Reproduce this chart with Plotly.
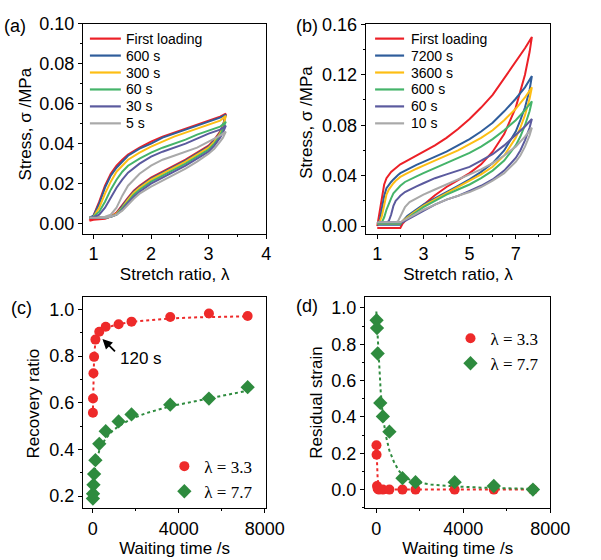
import plotly.graph_objects as go

# ---------------- Panel (a) data: lambda max 3.3 ----------------
lam_a_up = [0.93, 1.0, 1.1, 1.2, 1.3, 1.4, 1.5, 1.6, 1.8, 2.0, 2.2, 2.4, 2.6, 2.8, 3.0, 3.2, 3.3]
lam_a_dn = [3.3, 3.25, 3.2, 3.1, 3.0, 2.8, 2.6, 2.4, 2.2, 2.0, 1.8, 1.7, 1.6, 1.5, 1.4, 1.3, 1.2, 1.0, 0.93]
names_a = ["First loading", "600 s", "300 s", "60 s", "30 s", "5 s"]
a_first_up = [0.0015, 0.004, 0.011, 0.019, 0.025, 0.029, 0.032, 0.0345, 0.038, 0.041, 0.0435, 0.0455, 0.0475, 0.0495, 0.0515, 0.0535, 0.055]
a_600_up = [0.003, 0.004, 0.010, 0.018, 0.024, 0.028, 0.031, 0.034, 0.0375, 0.040, 0.043, 0.045, 0.047, 0.049, 0.051, 0.053, 0.0545]
a_300_up = [0.003, 0.0035, 0.008, 0.015, 0.021, 0.026, 0.029, 0.032, 0.0355, 0.0385, 0.041, 0.0435, 0.0455, 0.0475, 0.0495, 0.0515, 0.054]
a_60_up = [0.003, 0.0035, 0.006, 0.011, 0.017, 0.022, 0.026, 0.029, 0.0325, 0.0355, 0.038, 0.040, 0.042, 0.0445, 0.0465, 0.0485, 0.051]
a_30_up = [0.003, 0.0033, 0.0045, 0.008, 0.013, 0.018, 0.022, 0.0255, 0.030, 0.0335, 0.036, 0.038, 0.040, 0.0425, 0.045, 0.047, 0.049]
a_5_up = [0.003, 0.003, 0.003, 0.0035, 0.0045, 0.008, 0.014, 0.019, 0.025, 0.029, 0.032, 0.034, 0.036, 0.038, 0.041, 0.044, 0.046]
a_first_dn = [0.055, 0.049, 0.046, 0.042, 0.039, 0.0355, 0.032, 0.029, 0.026, 0.023, 0.019, 0.0165, 0.013, 0.009, 0.0055, 0.0035, 0.0025, 0.002, 0.0015]
a_600_dn = [0.0545, 0.049, 0.0455, 0.0415, 0.0385, 0.035, 0.0315, 0.0285, 0.0255, 0.0225, 0.0185, 0.016, 0.0125, 0.0085, 0.005, 0.0035, 0.003, 0.003, 0.003]
a_300_dn = [0.054, 0.0485, 0.045, 0.041, 0.038, 0.0345, 0.031, 0.028, 0.025, 0.022, 0.018, 0.0155, 0.012, 0.008, 0.005, 0.0035, 0.003, 0.003, 0.003]
a_60_dn = [0.051, 0.047, 0.044, 0.040, 0.037, 0.0335, 0.030, 0.027, 0.024, 0.021, 0.017, 0.0145, 0.011, 0.0075, 0.0045, 0.0035, 0.003, 0.003, 0.003]
a_30_dn = [0.049, 0.0455, 0.043, 0.039, 0.036, 0.0325, 0.029, 0.026, 0.023, 0.020, 0.016, 0.0135, 0.0105, 0.007, 0.0045, 0.0035, 0.003, 0.003, 0.003]
a_5_dn = [0.046, 0.043, 0.041, 0.0375, 0.035, 0.031, 0.0275, 0.0245, 0.0215, 0.0185, 0.015, 0.0125, 0.0095, 0.0065, 0.0045, 0.0035, 0.003, 0.003, 0.003]

# ---------------- Panel (b) data: lambda max 7.7 ----------------
lam_b_up = [1.0, 1.1, 1.2, 1.3, 1.4, 1.5, 1.6, 1.7, 1.8, 1.9, 2.0, 2.2, 2.4, 2.7, 3.0, 3.5, 4.0, 4.5, 5.0, 5.5, 6.0, 6.5, 7.0, 7.4, 7.7]
lam_b_dn = [7.7, 7.6, 7.4, 7.2, 7.0, 6.5, 6.0, 5.5, 5.0, 4.5, 4.0, 3.5, 3.0, 2.6, 2.3, 2.1, 2.0, 1.5, 1.0]
names_b = ["First loading", "7200 s", "3600 s", "600 s", "60 s", "10 s"]
b_first_up = [0.0, 0.012, 0.024, 0.033, 0.038, 0.041, 0.043, 0.0445, 0.046, 0.0475, 0.049, 0.051, 0.053, 0.0555, 0.059, 0.064, 0.070, 0.077, 0.085, 0.094, 0.104, 0.117, 0.130, 0.141, 0.150]
b_7200_up = [0.002, 0.004, 0.014, 0.024, 0.030, 0.033, 0.035, 0.037, 0.039, 0.0405, 0.042, 0.044, 0.046, 0.0485, 0.051, 0.055, 0.059, 0.064, 0.069, 0.075, 0.082, 0.091, 0.101, 0.110, 0.119]
b_3600_up = [0.002, 0.003, 0.008, 0.018, 0.025, 0.029, 0.032, 0.034, 0.036, 0.0375, 0.039, 0.041, 0.043, 0.0455, 0.048, 0.052, 0.056, 0.060, 0.065, 0.070, 0.076, 0.084, 0.093, 0.102, 0.110]
b_600_up = [0.002, 0.002, 0.003, 0.007, 0.013, 0.018, 0.022, 0.026, 0.028, 0.030, 0.032, 0.035, 0.037, 0.0395, 0.042, 0.046, 0.050, 0.054, 0.058, 0.063, 0.069, 0.076, 0.084, 0.092, 0.099]
b_60_up = [0.003, 0.003, 0.003, 0.003, 0.003, 0.004, 0.009, 0.016, 0.020, 0.022, 0.024, 0.027, 0.029, 0.0315, 0.034, 0.038, 0.041, 0.044, 0.047, 0.052, 0.057, 0.064, 0.072, 0.079, 0.085]
b_10_up = [0.003, 0.003, 0.003, 0.003, 0.003, 0.003, 0.003, 0.003, 0.003, 0.004, 0.008, 0.015, 0.019, 0.022, 0.025, 0.029, 0.033, 0.037, 0.041, 0.045, 0.050, 0.056, 0.063, 0.071, 0.078]
b_first_dn = [0.150, 0.138, 0.120, 0.106, 0.094, 0.073, 0.059, 0.049, 0.042, 0.0365, 0.031, 0.0245, 0.017, 0.011, 0.006, 0.002, -0.0015, -0.0015, -0.0015]
b_7200_dn = [0.119, 0.108, 0.094, 0.084, 0.075, 0.060, 0.050, 0.043, 0.037, 0.032, 0.027, 0.022, 0.017, 0.012, 0.008, 0.004, 0.001, 0.001, 0.001]
b_3600_dn = [0.110, 0.101, 0.088, 0.078, 0.070, 0.056, 0.047, 0.041, 0.036, 0.031, 0.026, 0.021, 0.016, 0.011, 0.007, 0.004, 0.002, 0.002, 0.002]
b_600_dn = [0.099, 0.091, 0.080, 0.071, 0.064, 0.052, 0.044, 0.038, 0.033, 0.029, 0.025, 0.020, 0.015, 0.010, 0.006, 0.004, 0.002, 0.002, 0.002]
b_60_dn = [0.085, 0.078, 0.068, 0.060, 0.054, 0.044, 0.037, 0.032, 0.028, 0.024, 0.021, 0.017, 0.012, 0.008, 0.005, 0.003, 0.003, 0.003, 0.003]
b_10_dn = [0.078, 0.072, 0.063, 0.056, 0.051, 0.042, 0.036, 0.031, 0.027, 0.024, 0.021, 0.017, 0.013, 0.009, 0.006, 0.004, 0.003, 0.003, 0.003]

curve_colors = ["#EC2027", "#2F5D9B", "#FDBE14", "#45B46A", "#5B5A9E", "#A9A9A9"]

# ---------------- Panel (c) data: recovery ratio ----------------
t_c = [5, 10, 30, 60, 120, 300, 600, 1200, 1800, 3600, 5400, 7200]
rec_33 = [0.557, 0.618, 0.727, 0.797, 0.871, 0.905, 0.926, 0.937, 0.948, 0.968, 0.983, 0.972]
rec_77 = [0.189, 0.210, 0.248, 0.294, 0.354, 0.424, 0.478, 0.520, 0.550, 0.592, 0.618, 0.667]
fit_t_c = [0, 10, 30, 60, 120, 200, 300, 450, 600, 900, 1200, 1800, 2500, 3600, 5000, 6000, 7200]
fit_rec_33 = [0.55, 0.64, 0.74, 0.80, 0.86, 0.885, 0.90, 0.913, 0.921, 0.931, 0.938, 0.947, 0.954, 0.962, 0.967, 0.969, 0.971]
fit_rec_77 = [0.18, 0.21, 0.25, 0.285, 0.33, 0.365, 0.395, 0.425, 0.447, 0.478, 0.50, 0.532, 0.556, 0.585, 0.612, 0.630, 0.652]

# ---------------- Panel (d) data: residual strain ----------------
t_d_33 = [5, 10, 30, 60, 120, 300, 600, 1200, 1800, 3600, 5400, 7200]
res_33 = [0.244, 0.192, 0.020, 0.005, 0.0, 0.0, 0.0, 0.0, 0.0, 0.0, 0.0, 0.0]
t_d_77 = [10, 30, 60, 180, 300, 600, 1200, 1800, 3600, 5400, 7200]
res_77 = [0.932, 0.889, 0.749, 0.477, 0.403, 0.319, 0.063, 0.041, 0.041, 0.020, 0.0]
fit_t_d = [0, 30, 60, 100, 150, 200, 300, 450, 600, 800, 1000, 1200, 1500, 1800, 2500, 3600, 5000, 7200]
fit_res_77 = [0.98, 0.91, 0.85, 0.76, 0.64, 0.54, 0.40, 0.29, 0.215, 0.155, 0.11, 0.08, 0.056, 0.042, 0.028, 0.018, 0.010, 0.004]
fit_res_33 = [0.25, 0.13, 0.06, 0.02, 0.006, 0.002, 0.0, 0.0, 0.0, 0.0, 0.0, 0.0, 0.0, 0.0, 0.0, 0.0, 0.0, 0.0]

RED = "#EE2A2A"
GREEN = "#2E8B3E"
FONT = "Liberation Sans, Arial, sans-serif"
SERIF = "Liberation Serif"

W, H = 601, 560


def dom_x(a, b):
    return [a / W, b / W]


def dom_y(top, bottom):
    return [1 - bottom / H, 1 - top / H]


fig = go.Figure()

ups_a = [a_first_up, a_600_up, a_300_up, a_60_up, a_30_up, a_5_up]
dns_a = [a_first_dn, a_600_dn, a_300_dn, a_60_dn, a_30_dn, a_5_dn]
for name, col, up, dn in zip(names_a, curve_colors, ups_a, dns_a):
    fig.add_trace(go.Scatter(x=lam_a_up + lam_a_dn, y=up + dn, mode="lines", name=name, showlegend=False,
                             line=dict(color=col, width=2), xaxis="x", yaxis="y"))

ups_b = [b_first_up, b_7200_up, b_3600_up, b_600_up, b_60_up, b_10_up]
dns_b = [b_first_dn, b_7200_dn, b_3600_dn, b_600_dn, b_60_dn, b_10_dn]
for name, col, up, dn in zip(names_b, curve_colors, ups_b, dns_b):
    fig.add_trace(go.Scatter(x=lam_b_up + lam_b_dn, y=up + dn, mode="lines", name=name, showlegend=False,
                             line=dict(color=col, width=2), xaxis="x2", yaxis="y2"))

# (c)
fig.add_trace(go.Scatter(x=fit_t_c, y=fit_rec_33, mode="lines", line=dict(color=RED, width=2, dash="dot"),
                         showlegend=False, xaxis="x3", yaxis="y3"))
fig.add_trace(go.Scatter(x=fit_t_c, y=fit_rec_77, mode="lines", line=dict(color=GREEN, width=2, dash="dot"),
                         showlegend=False, xaxis="x3", yaxis="y3"))
fig.add_trace(go.Scatter(x=t_c, y=rec_33, mode="markers", name="λ = 3.3",
                         marker=dict(color=RED, size=10, symbol="circle"), xaxis="x3", yaxis="y3", legend="legend"))
fig.add_trace(go.Scatter(x=t_c, y=rec_77, mode="markers", name="λ = 7.7",
                         marker=dict(color=GREEN, size=11, symbol="diamond"), xaxis="x3", yaxis="y3", legend="legend"))

# (d)
fig.add_trace(go.Scatter(x=fit_t_d, y=fit_res_33, mode="lines", line=dict(color=RED, width=2, dash="dot"),
                         showlegend=False, xaxis="x4", yaxis="y4"))
fig.add_trace(go.Scatter(x=fit_t_d, y=fit_res_77, mode="lines", line=dict(color=GREEN, width=2, dash="dot"),
                         showlegend=False, xaxis="x4", yaxis="y4"))
fig.add_trace(go.Scatter(x=t_d_33, y=res_33, mode="markers", name="λ = 3.3",
                         marker=dict(color=RED, size=10, symbol="circle"), xaxis="x4", yaxis="y4", legend="legend2"))
fig.add_trace(go.Scatter(x=t_d_77, y=res_77, mode="markers", name="λ = 7.7",
                         marker=dict(color=GREEN, size=11, symbol="diamond"), xaxis="x4", yaxis="y4", legend="legend2"))


def axis(domain, rng, dtick, minor_dtick, title=None, tickformat=None, tick0=None, anchor=None, standoff=4):
    d = dict(domain=domain, range=rng, dtick=dtick, showline=True, linecolor="black", linewidth=1.3,
             mirror=True, ticks="outside", ticklen=4, tickwidth=1.3, tickcolor="black",
             showgrid=False, zeroline=False, tickfont=dict(size=18, color="black", family=FONT),
             minor=dict(dtick=minor_dtick, ticks="outside", ticklen=2, tickwidth=1.3, tickcolor="black",
                        showgrid=False),
             anchor=anchor)
    if title:
        d["title"] = dict(text=title, font=dict(size=17, color="black", family=FONT), standoff=standoff)
    if tickformat:
        d["tickformat"] = tickformat
    if tick0 is not None:
        d["tick0"] = tick0
        d["minor"]["tick0"] = tick0
    return d


A_X = dom_x(86, 275.3)
B_X = dom_x(378.3, 569.3)
C_X = dom_x(86, 275.3)
D_X = dom_x(377.7, 569.3)
TOP_Y = dom_y(14, 229)
BOT_Y = dom_y(294, 510)

legend_common = dict(bgcolor="rgba(0,0,0,0)", borderwidth=0, xanchor="left", yanchor="top")

fig.update_layout(
    width=W, height=H, margin=dict(l=0, r=0, t=0, b=0),
    paper_bgcolor="white", plot_bgcolor="white",
    font=dict(family=FONT, color="black"),
    xaxis=axis(A_X, [0.82, 4.0], 1, 0.5, "Stretch ratio, λ", anchor="y"),
    yaxis=axis(TOP_Y, [-0.005, 0.1], 0.02, 0.01, None, ".2f", anchor="x"),
    xaxis2=axis(B_X, [0.5, 8.5], 2, 1, "Stretch ratio, λ", tick0=1, anchor="y2"),
    yaxis2=axis(TOP_Y, [-0.006, 0.1605], 0.04, 0.02, None, ".2f", anchor="x2"),
    xaxis3=axis(C_X, [-450, 8060], 4000, 2000, "Waiting time /s", anchor="y3"),
    yaxis3=axis(BOT_Y, [0.148, 1.053], 0.2, 0.1, None, ".1f", anchor="x3"),
    xaxis4=axis(D_X, [-516, 8000], 4000, 2000, "Waiting time /s", anchor="y4"),
    yaxis4=axis(BOT_Y, [-0.102, 1.059], 0.2, 0.1, None, ".1f", anchor="x4"),
    legend=dict(x=170 / W, y=1 - 449 / H, font=dict(size=17, family=SERIF, color="black"), **legend_common),
    legend2=dict(x=466 / W, y=1 - 318 / H, font=dict(size=17, family=SERIF, color="black"), **legend_common),
    showlegend=True,
)

# y-axis titles placed beside each panel
y_titles = [("Stress, σ /MPa", 26, 117), ("Stress, σ /MPa", 317, 115),
            ("Recovery ratio", 35, 403), ("Residual strain", 328, 402)]
for txt, px, py in y_titles:
    fig.add_annotation(text=txt, x=px / W, y=1 - py / H, xref="paper", yref="paper", showarrow=False,
                       textangle=-90, xanchor="center", yanchor="middle",
                       font=dict(size=17, family=FONT, color="black"))

# hand-placed line legends for panels (a) and (b)
legend_rows = [29.3 + 17.35 * i for i in range(6)]
for names, x0, x1, xt in [(names_a, 93, 125, 128.3), (names_b, 388, 418, 423.3)]:
    for name, col, ry in zip(names, curve_colors, legend_rows):
        fig.add_shape(type="line", xref="paper", yref="paper", x0=x0 / W, x1=x1 / W,
                      y0=1 - ry / H, y1=1 - ry / H, line=dict(color=col, width=2.2))
        fig.add_annotation(text=name, x=xt / W, y=1 - ry / H, xref="paper", yref="paper", showarrow=False,
                           xanchor="left", yanchor="middle", font=dict(size=14, family=FONT, color="black"))

panel_labels = [("(a)", 16, 16), ("(b)", 318, 16), ("(c)", 22, 305), ("(d)", 318, 303)]
for txt, px, py in panel_labels:
    fig.add_annotation(text=txt, x=px / W, y=1 - py / H, xref="paper", yref="paper", showarrow=False,
                       font=dict(size=18, family=FONT, color="black"), xanchor="center", yanchor="middle")

# arrow + label for 120 s
fig.add_annotation(x=449, y=0.874, xref="x3", yref="y3", text="", showarrow=True, ax=14, ay=14,
                   arrowhead=2, arrowsize=1.1, arrowwidth=1.8, arrowcolor="black", standoff=0)
fig.add_annotation(x=2225, y=0.789, xref="x3", yref="y3", text="120 s", showarrow=False,
                   font=dict(size=17, family=FONT, color="black"))

fig.write_html("out.html")
